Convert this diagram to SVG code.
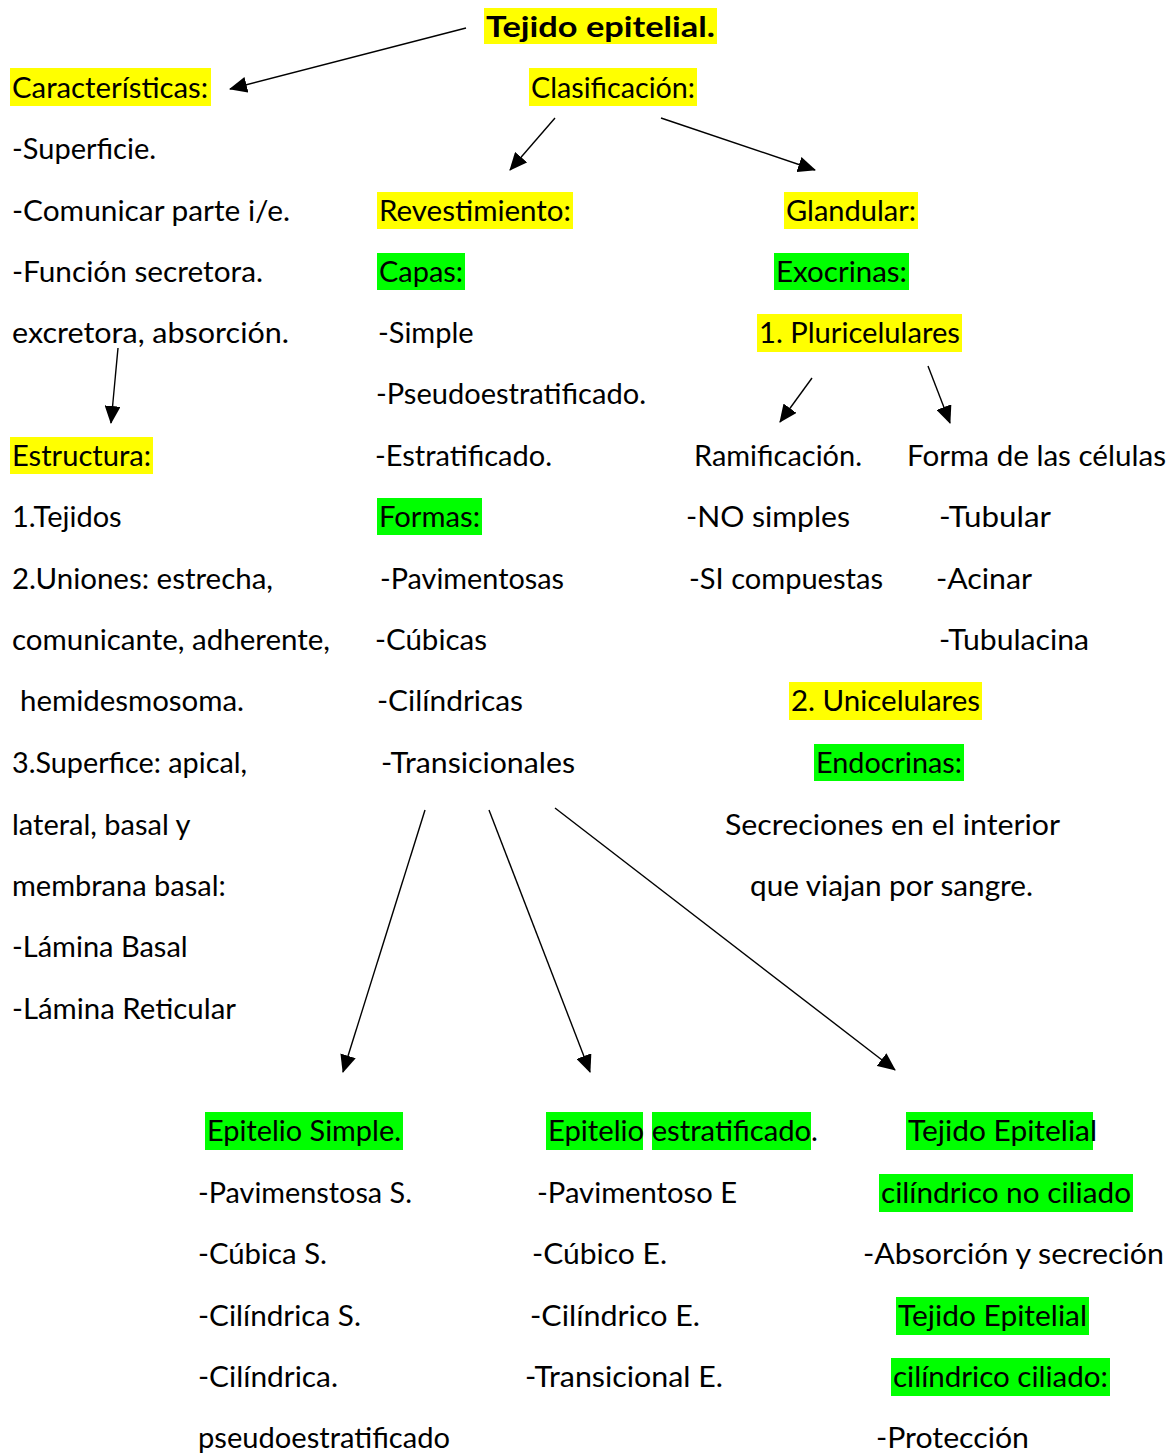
<svg xmlns="http://www.w3.org/2000/svg" width="1171" height="1454" viewBox="0 0 1171 1454">
<defs>
<style>
text{font-family:Lato,"Open Sans","DejaVu Sans",sans-serif;font-size:29px;fill:#000}
.b{font-weight:bold}
.y{fill:#ffff00}
.g{fill:#00ff00}
.c line{stroke:#000;stroke-width:1.4;marker-end:url(#ah)}
</style>
<marker id="ah" markerUnits="userSpaceOnUse" markerWidth="18" markerHeight="16" refX="17" refY="8" orient="auto" viewBox="0 0 18 16">
<path d="M0,0 L18,8 L0,16 Z" fill="#000"/>
</marker>
</defs>
<rect width="1171" height="1454" fill="#fff"/>

<g id="n-tejido"><rect class="y" x="484" y="8" width="233" height="36"/><text class="b" x="486" y="37" textLength="229" lengthAdjust="spacingAndGlyphs">Tejido epitelial.</text></g>

<g id="n-caracteristicas"><rect class="y" x="10" y="68" width="201" height="38"/><text x="12" y="98" textLength="196" lengthAdjust="spacingAndGlyphs">Características:</text>
<text x="12" y="159">-Superficie.</text>
<text x="12" y="221" textLength="278" lengthAdjust="spacingAndGlyphs">-Comunicar parte i/e.</text>
<text x="12" y="282" textLength="251" lengthAdjust="spacingAndGlyphs">-Función secretora.</text>
<text x="12" y="343" textLength="277" lengthAdjust="spacingAndGlyphs">excretora, absorción.</text></g>

<g id="n-estructura"><rect class="y" x="10" y="437" width="143" height="37"/><text x="12" y="466" textLength="139" lengthAdjust="spacingAndGlyphs">Estructura:</text>
<text x="12" y="527">1.Tejidos</text>
<text x="12" y="589" textLength="261" lengthAdjust="spacingAndGlyphs">2.Uniones: estrecha,</text>
<text x="12" y="650" textLength="318" lengthAdjust="spacingAndGlyphs">comunicante, adherente,</text>
<text x="20" y="711" textLength="224" lengthAdjust="spacingAndGlyphs">hemidesmosoma.</text>
<text x="12" y="773" textLength="235" lengthAdjust="spacingAndGlyphs">3.Superfice: apical,</text>
<text x="12" y="835">lateral, basal y</text>
<text x="12" y="896">membrana basal:</text>
<text x="12" y="957">-Lámina Basal</text>
<text x="12" y="1019" textLength="224" lengthAdjust="spacingAndGlyphs">-Lámina Reticular</text></g>

<g id="n-clasificacion"><rect class="y" x="529" y="68" width="168" height="38"/><text x="531" y="98" textLength="164" lengthAdjust="spacingAndGlyphs">Clasificación:</text></g>

<g id="n-revestimiento"><rect class="y" x="377" y="192" width="196" height="37"/><text x="379" y="221" textLength="192" lengthAdjust="spacingAndGlyphs">Revestimiento:</text>
<rect class="g" x="377" y="253" width="88" height="37"/><text x="379" y="282" textLength="84" lengthAdjust="spacingAndGlyphs">Capas:</text>
<text x="378" y="343">-Simple</text>
<text x="376" y="404" textLength="270" lengthAdjust="spacingAndGlyphs">-Pseudoestratificado.</text>
<text x="375" y="466">-Estratificado.</text>
<rect class="g" x="377" y="498" width="105" height="37"/><text x="379" y="527" textLength="101" lengthAdjust="spacingAndGlyphs">Formas:</text>
<text x="380" y="589" textLength="184" lengthAdjust="spacingAndGlyphs">-Pavimentosas</text>
<text x="375" y="650" textLength="112" lengthAdjust="spacingAndGlyphs">-Cúbicas</text>
<text x="377" y="711" textLength="146" lengthAdjust="spacingAndGlyphs">-Cilíndricas</text>
<text x="381" y="773" textLength="194" lengthAdjust="spacingAndGlyphs">-Transicionales</text></g>

<g id="n-glandular"><rect class="y" x="784" y="192" width="134" height="37"/><text x="786" y="221" textLength="130" lengthAdjust="spacingAndGlyphs">Glandular:</text>
<rect class="g" x="774" y="253" width="135" height="37"/><text x="776" y="282" textLength="131" lengthAdjust="spacingAndGlyphs">Exocrinas:</text>
<rect class="y" x="757" y="314" width="205" height="38"/><text x="759" y="343" textLength="201" lengthAdjust="spacingAndGlyphs">1. Pluricelulares</text></g>

<g id="n-ramificacion"><text x="694" y="466" textLength="168" lengthAdjust="spacingAndGlyphs">Ramificación.</text>
<text x="686" y="527" textLength="164" lengthAdjust="spacingAndGlyphs">-NO simples</text>
<text x="689" y="589" textLength="194" lengthAdjust="spacingAndGlyphs">-SI compuestas</text></g>

<g id="n-forma"><text x="907" y="466" textLength="259" lengthAdjust="spacingAndGlyphs">Forma de las células</text>
<text x="939" y="527" textLength="112" lengthAdjust="spacingAndGlyphs">-Tubular</text>
<text x="936" y="589" textLength="96" lengthAdjust="spacingAndGlyphs">-Acinar</text>
<text x="939" y="650" textLength="150" lengthAdjust="spacingAndGlyphs">-Tubulacina</text></g>

<g id="n-unicelulares"><rect class="y" x="789" y="682" width="193" height="38"/><text x="791" y="711" textLength="189" lengthAdjust="spacingAndGlyphs">2. Unicelulares</text>
<rect class="g" x="814" y="744" width="150" height="37"/><text x="816" y="773" textLength="146" lengthAdjust="spacingAndGlyphs">Endocrinas:</text>
<text x="725" y="835" textLength="335" lengthAdjust="spacingAndGlyphs">Secreciones en el interior</text>
<text x="750" y="896" textLength="283" lengthAdjust="spacingAndGlyphs">que viajan por sangre.</text></g>

<g id="n-simple"><rect class="g" x="205" y="1112" width="198" height="38"/><text x="207" y="1141" textLength="194" lengthAdjust="spacingAndGlyphs">Epitelio Simple.</text>
<text x="198" y="1203" textLength="214" lengthAdjust="spacingAndGlyphs">-Pavimenstosa S.</text>
<text x="198" y="1264" textLength="129" lengthAdjust="spacingAndGlyphs">-Cúbica S.</text>
<text x="198" y="1326" textLength="163" lengthAdjust="spacingAndGlyphs">-Cilíndrica S.</text>
<text x="198" y="1387" textLength="140" lengthAdjust="spacingAndGlyphs">-Cilíndrica.</text>
<text x="198" y="1448" textLength="252" lengthAdjust="spacingAndGlyphs">pseudoestratificado</text></g>

<g id="n-estratificado"><rect class="g" x="546" y="1112" width="97" height="38"/><rect class="g" x="652" y="1112" width="159" height="38"/><text x="548" y="1141" textLength="270" lengthAdjust="spacingAndGlyphs">Epitelio estratificado.</text>
<text x="537" y="1203" textLength="200" lengthAdjust="spacingAndGlyphs">-Pavimentoso E</text>
<text x="532" y="1264" textLength="135" lengthAdjust="spacingAndGlyphs">-Cúbico E.</text>
<text x="530" y="1326" textLength="170" lengthAdjust="spacingAndGlyphs">-Cilíndrico E.</text>
<text x="525" y="1387" textLength="198" lengthAdjust="spacingAndGlyphs">-Transicional E.</text></g>

<g id="n-cilindrico"><rect class="g" x="906" y="1112" width="187" height="38"/><text x="908" y="1141" textLength="189" lengthAdjust="spacingAndGlyphs">Tejido Epitelial</text>
<rect class="g" x="879" y="1174" width="254" height="38"/><text x="881" y="1203" textLength="250" lengthAdjust="spacingAndGlyphs">cilíndrico no ciliado</text>
<text x="863" y="1264" textLength="301" lengthAdjust="spacingAndGlyphs">-Absorción y secreción</text>
<rect class="g" x="896" y="1297" width="193" height="38"/><text x="898" y="1326" textLength="189" lengthAdjust="spacingAndGlyphs">Tejido Epitelial</text>
<rect class="g" x="891" y="1358" width="219" height="38"/><text x="893" y="1387" textLength="215" lengthAdjust="spacingAndGlyphs">cilíndrico ciliado:</text>
<text x="876" y="1448" textLength="153" lengthAdjust="spacingAndGlyphs">-Protección</text></g>

<g id="connectors" class="c">
<line x1="466" y1="28" x2="230" y2="89"/>
<line x1="555" y1="118" x2="510" y2="170"/>
<line x1="661" y1="118" x2="815" y2="170"/>
<line x1="118" y1="348" x2="111" y2="423"/>
<line x1="812" y1="378" x2="780" y2="422"/>
<line x1="928" y1="366" x2="950" y2="423"/>
<line x1="425" y1="810" x2="343" y2="1072"/>
<line x1="489" y1="810" x2="590" y2="1072"/>
<line x1="555" y1="808" x2="895" y2="1070"/>
</g>
</svg>
